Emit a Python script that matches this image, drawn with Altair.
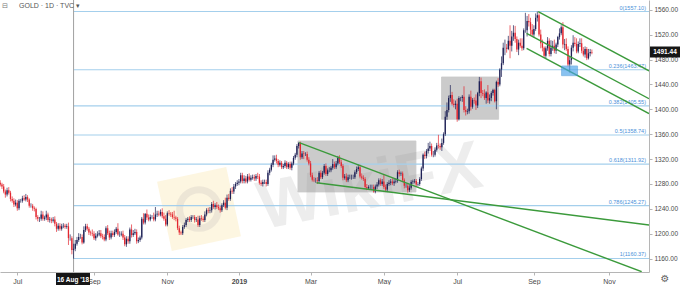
import altair as alt
import pandas as pd

# ---------------- daily closes (TVC GOLD, 1D), one list per month ----------------
jun18 = [1279,1276,1268,1263,1270,1266,1256,1253,1247,1250]
jul18 = [1241,1253,1253,1257,1255,1259,1255,1245,1245,1241,1240,1227,1224,1224,1231,1224,1226,1231,1222,1223,1221,1223]
aug18 = [1216,1208,1213,1208,1212,1213,1211,1212,1193,1193,1174,1176,1184,1190,1195,1195,1186,1206,1212,1208,1202,1201,1200]
sep18 = [1193,1197,1199,1201,1196,1195,1191,1209,1201,1194,1201,1198,1203,1208,1199,1199,1200,1194,1183,1192]
oct18 = [1188,1207,1198,1201,1203,1188,1190,1194,1224,1218,1232,1226,1223,1227,1227,1223,1231,1232,1231,1235,1228,1224,1215]
nov18 = [1233,1232,1231,1227,1226,1224,1209,1202,1201,1211,1214,1222,1224,1222,1227,1227,1222,1223,1214,1225,1224,1222]
dec18 = [1231,1238,1237,1238,1248,1243,1246,1243,1241,1238,1246,1250,1242,1258,1256,1269,1268,1276,1280,1282]
jan19 = [1284,1294,1285,1289,1284,1292,1287,1290,1291,1289,1293,1292,1282,1280,1283,1283,1280,1298,1303,1311,1319,1321]
feb19 = [1317,1311,1314,1307,1309,1314,1307,1312,1306,1313,1322,1327,1341,1346,1323,1329,1328,1328,1319,1313]
mar19 = [1294,1287,1286,1286,1285,1298,1291,1298,1309,1296,1302,1302,1306,1312,1307,1313,1322,1315,1309,1290,1292]
apr19 = [1286,1291,1291,1291,1291,1299,1304,1307,1292,1290,1288,1275,1273,1275,1275,1275,1268,1276,1279,1286,1280,1284]
may19 = [1275,1271,1280,1282,1284,1281,1284,1285,1299,1296,1297,1286,1277,1277,1270,1274,1283,1284,1285,1279,1280,1288,1305]
jun19 = [1327,1325,1333,1337,1341,1327,1327,1335,1342,1341,1339,1346,1360,1388,1399,1418,1423,1409,1407,1409]
jul19 = [1384,1418,1418,1420,1399,1396,1397,1420,1404,1415,1414,1406,1426,1445,1426,1425,1418,1427,1414,1418,1426,1431,1413]
aug19 = [1444,1440,1464,1474,1499,1499,1497,1510,1502,1517,1523,1513,1496,1507,1502,1498,1527,1527,1542,1540,1528,1520]
sep19 = [1529,1547,1551,1520,1506,1499,1486,1498,1510,1489,1499,1502,1494,1504,1516,1522,1532,1504,1505,1497,1472]
oct19 = [1479,1499,1507,1505,1493,1505,1506,1494,1488,1497,1482,1490,1492,1491.44]

# upper wicks (above body) per month
jun18_up = [4,3,4,3,4,5,3,4,4,5]
jul18_up = [4,3,3,4,5,5,3,2,4,3,3,2,3,3,6,5,3,6,3,4,3,4]
aug18_up = [5,3,4,4,4,4,3,4,6,6,3,8,6,5,6,5,4,6,4,4,3,3,6]
sep18_up = [4,4,5,5,5,4,4,3,5,4,4,4,4,3,9,5,4,5,4,4]
oct18_up = [4,3,8,5,5,4,4,3,3,9,1,7,5,4,3,7,12,5,5,4,6,6,6]
nov18_up = [3,5,3,4,10,3,3,4,3,3,4,3,3,4,3,3,3,4,6,4,5,4]
dec18_up = [5,3,4,5,3,5,3,5,4,4,3,4,8,5,6,4,6,4,3,4]
jan19_up = [4,4,4,5,4,4,5,4,4,4,3,5,4,4,4,4,4,4,3,3,7,5]
feb19_up = [6,3,4,3,3,4,3,3,4,3,3,3,3,1,2,4,4,3,4,4]
mar19_up = [4,4,4,4,5,3,4,3,3,4,3,5,3,8,4,4,3,4,4,3,4]
apr19_up = [5,4,4,4,4,3,4,4,4,5,4,3,5,3,4,4,4,3,4,3,3,4]
may19_up = [12,4,3,4,4,5,4,4,3,4,3,3,3,4,4,4,3,3,3,3,3,3,3]
jun19_up = [2,5,3,9,7,4,6,4,4,17,4,7,3,9,12,4,16,5,7,5]
jul19_up = [8,3,2,3,17,6,4,4,10,3,4,10,2,7,6,5,7,2,12,6,3,2,2]
aug19_up = [2,6,2,11,8,13,6,8,25,9,12,11,4,5,7,12,3,28,8,11,7,9]
sep19_up = [6,7,6,3,8,6,2,3,6,4,12,8,10,3,2,8,3,8,8,9,4]
oct19_up = [6,4,12,9,9,4,8,8,6,4,3,7,5,4]

# lower wicks (below body) per month
jun18_dn = [3,4,3,5,3,3,4,3,4,3]
jul18_dn = [4,3,3,3,2,3,4,3,3,4,4,4,4,5,3,3,3,4,3,4,4,3]
aug18_dn = [4,5,3,3,3,3,3,3,11,4,7,14,4,3,3,3,3,2,3,3,4,4,4]
sep18_dn = [3,4,3,3,3,4,3,3,3,4,3,3,3,3,2,4,3,4,3,4]
oct18_dn = [4,4,4,3,3,4,3,3,3,3,3,4,3,3,3,3,3,4,3,3,3,3,3]
nov18_dn = [3,3,4,3,4,4,3,4,3,3,3,3,3,3,3,3,4,3,3,3,3,3]
dec18_dn = [3,3,4,4,4,3,4,3,3,4,3,3,3,4,3,3,4,4,4,3]
jan19_dn = [4,3,4,4,3,3,3,3,3,4,4,4,3,3,4,3,4,3,4,3,4,3]
feb19_dn = [4,4,3,3,3,3,3,3,3,4,3,3,4,4,4,3,8,3,3,3]
mar19_dn = [3,3,3,4,5,3,3,3,3,3,3,3,3,3,3,3,3,3,3,4,3]
apr19_dn = [3,3,3,4,3,3,3,3,3,3,3,3,3,2,3,3,2,3,4,3,3,3]
may19_dn = [3,4,4,3,4,3,4,3,3,4,3,3,4,3,4,3,3,3,3,3,3,3,3]
jun19_dn = [4,5,4,4,4,3,4,3,3,4,4,6,3,3,5,4,6,3,4,7]
jul19_dn = [4,2,5,6,4,6,4,4,6,3,5,7,4,5,8,4,3,9,4,5,5,4,2]
aug19_dn = [13,4,3,12,3,12,6,2,20,9,7,6,4,9,3,4,3,4,10,7,9,3]
sep19_dn = [5,3,6,3,8,6,3,4,4,4,4,5,4,5,4,4,3,6,9,3,3]
oct19_dn = [13,7,6,4,3,3,5,4,3,5,3,2,5,3]

first_open = 1282

# x-axis (trading-day index) ticks and labels
tick_idx = [10, 55, 98, 140, 182, 225, 268, 313, 357]
tick_lbl = ["Jul", "Sep", "Nov", "2019", "Mar", "May", "Jul", "Sep", "Nov"]
y_ticks = [1160, 1200, 1240, 1280, 1320, 1360, 1400, 1440, 1480, 1520, 1560]

# Fibonacci retracement
fib_ratio = ["0", "0.236", "0.382", "0.5", "0.618", "0.786", "1"]
fib_price = [1557.10, 1463.47, 1405.55, 1358.74, 1311.92, 1245.27, 1160.37]
fib_start = 43          # 16 Aug '18
x_end = 380.5

# consolidation boxes (x in trading-day index, y in price)
box_x1 = [174.6, 258.8]
box_x2 = [243.8, 292.3]
box_y1 = [1267.2, 1383.9]
box_y2 = [1349.1, 1451.9]
blue_x = [329.2, 338.6]
blue_y = [1454.0, 1469.6]

# green trend lines
tl_x1 = [175.3, 185.5, 315.5, 308.7, 308.7]
tl_y1 = [1346.4, 1282.1, 1556.8, 1522.1, 1498.0]
tl_x2 = [376.2, 380.6, 380.5, 380.5, 380.5]
tl_y2 = [1139.1, 1214.2, 1461.7, 1417.0, 1393.0]

last_price = 1491.44

# ---------------- build table ----------------
months_c = [jun18, jul18, aug18, sep18, oct18, nov18, dec18, jan19, feb19, mar19, apr19, may19, jun19, jul19, aug19, sep19, oct19]
months_u = [jun18_up, jul18_up, aug18_up, sep18_up, oct18_up, nov18_up, dec18_up, jan19_up, feb19_up, mar19_up, apr19_up, may19_up, jun19_up, jul19_up, aug19_up, sep19_up, oct19_up]
months_d = [jun18_dn, jul18_dn, aug18_dn, sep18_dn, oct18_dn, nov18_dn, dec18_dn, jan19_dn, feb19_dn, mar19_dn, apr19_dn, may19_dn, jun19_dn, jul19_dn, aug19_dn, sep19_dn, oct19_dn]

closes, ups, dns = [], [], []
for c, u, d in zip(months_c, months_u, months_d):
    u = (list(u) + [u[-1]] * len(c))[:len(c)]
    d = (list(d) + [d[-1]] * len(c))[:len(c)]
    closes += c
    ups += u
    dns += d

rows = []
prev = first_open
for i, (c, u, d) in enumerate(zip(closes, ups, dns)):
    o = prev
    rows.append({"i": i, "open": o, "close": c,
                 "high": max(o, c) + u, "low": min(o, c) - d,
                 "dir": "up" if c >= o else "down"})
    prev = c
df = pd.DataFrame(rows)

fib_df = pd.DataFrame({"price": fib_price,
                       "label": [f"{r}({p:.2f})" for r, p in zip(fib_ratio, fib_price)],
                       "x1": fib_start, "x2": x_end})
box_df = pd.DataFrame({"x1": box_x1, "x2": box_x2, "y1": box_y1, "y2": box_y2})
blue_df = pd.DataFrame({"x1": [blue_x[0]], "x2": [blue_x[1]], "y1": [blue_y[0]], "y2": [blue_y[1]]})
tl_df = pd.DataFrame({"x1": tl_x1, "y1": tl_y1, "x2": tl_x2, "y2": tl_y2})
one = pd.DataFrame({"k": [0]})
cross_df = pd.DataFrame({"i": [fib_start]})
price_df = pd.DataFrame({"p": [last_price], "t": [f"{last_price:.2f}"]})

FONT = "Liberation Sans"
xs = alt.Scale(domain=[-0.15, x_end], nice=False, zero=False)
ys = alt.Scale(domain=[1138.6, 1575.6], nice=False, zero=False)

label_expr = ("[" + ",".join(f"'{t}'" for t in tick_lbl) + "][indexof([" +
              ",".join(str(v) for v in tick_idx) + "], datum.value)]")

x_axis = alt.Axis(values=tick_idx, labelExpr=label_expr, title=None, grid=False,
                  tickSize=3, labelFontSize=7, labelPadding=2, labelFont=FONT,
                  labelColor="#4a4a4a", domainColor="#b5b5b5", tickColor="#b5b5b5",
                  labelFontWeight={"condition": {"test": "datum.value == 140", "value": "bold"}, "value": "normal"})
y_axis = alt.Axis(values=y_ticks, format=".2f", orient="right", title=None, grid=False,
                  tickSize=3, labelFontSize=6.5, labelPadding=2, labelFont=FONT,
                  labelColor="#4a4a4a", domainColor="#b5b5b5", tickColor="#b5b5b5")


def X(field):
    return alt.X(field, scale=xs, axis=x_axis)


def Y(field):
    return alt.Y(field, scale=ys, axis=y_axis)


# watermark
wm_logo = alt.Chart(one).mark_point(shape="square", filled=True, size=5000, angle=348,
                                    color="#fbeec8", opacity=0.55).encode(
    x=alt.value(199), y=alt.value(209))
wm_ring = alt.Chart(one).mark_point(shape="circle", filled=False, size=1500, strokeWidth=7,
                                    color="#e4ddd0", opacity=0.6).encode(
    x=alt.value(199), y=alt.value(209))
wm_text = alt.Chart(one).mark_text(text="WikiFX", font=FONT, fontWeight="bold", fontSize=68,
                                   angle=349, color="#e6e6e6", opacity=0.7,
                                   align="center", baseline="middle").encode(
    x=alt.value(370), y=alt.value(188))

boxes = alt.Chart(box_df).mark_rect(color="#8e8e8e", opacity=0.45, stroke="#8a8a8a",
                                     strokeWidth=0.8).encode(
    x=X("x1:Q"), x2="x2:Q", y=Y("y1:Q"), y2="y2:Q")

fib_lines = alt.Chart(fib_df).mark_rule(color="#a4cfec", strokeWidth=1.1).encode(
    x=X("x1:Q"), x2="x2:Q", y=Y("price:Q"))
fib_text = alt.Chart(fib_df).mark_text(align="right", baseline="bottom", dy=-1, fontSize=5.5,
                                       font=FONT, color="#4a90d9").encode(
    x=alt.value(646), y=Y("price:Q"), text="label:N")

cross = alt.Chart(cross_df).mark_rule(color="#a0a0a0", strokeWidth=1).encode(
    x=X("i:Q"), y=alt.value(0), y2=alt.value(272))

color = alt.Color("dir:N", scale=alt.Scale(domain=["up", "down"], range=["#1e2156", "#e3262f"]),
                  legend=None)
wicks = alt.Chart(df).mark_rule(strokeWidth=0.7).encode(
    x=X("i:Q"), y=Y("low:Q"), y2="high:Q", color=color)
bodies = alt.Chart(df).mark_rule(strokeWidth=1.3).encode(
    x=X("i:Q"), y=Y("open:Q"), y2="close:Q", color=color)

tlines = alt.Chart(tl_df).mark_rule(color="#3b9a3b", strokeWidth=1.4, clip=True).encode(
    x=X("x1:Q"), x2="x2:Q", y=Y("y1:Q"), y2="y2:Q")

blue = alt.Chart(blue_df).mark_rect(color="#4aa3ea", opacity=0.65, stroke="#3b8fd6",
                                     strokeWidth=0.8).encode(
    x=X("x1:Q"), x2="x2:Q", y=Y("y1:Q"), y2="y2:Q")

title_icon = alt.Chart(one).mark_text(text="⊟", font="DejaVu Sans", fontSize=7, color="#777",
                                      align="left", baseline="middle").encode(
    x=alt.value(2), y=alt.value(6))
title_txt = alt.Chart(one).mark_text(text="GOLD · 1D · TVC ▾", font=FONT, fontSize=7,
                                     color="#555", align="left", baseline="middle").encode(
    x=alt.value(19), y=alt.value(6))

date_box = alt.Chart(one).mark_rect(color="#161616").encode(
    x=alt.value(56), x2=alt.value(90), y=alt.value(273), y2=alt.value(285))
date_txt = alt.Chart(one).mark_text(text="16 Aug '18", font=FONT, fontSize=6.5, fontWeight="bold",
                                    color="white", align="center", baseline="middle").encode(
    x=alt.value(73), y=alt.value(279.5))

price_box = alt.Chart(one).mark_rect(color="#161616").encode(
    x=alt.value(650), x2=alt.value(680), y=alt.value(46.5), y2=alt.value(57.5))
price_txt = alt.Chart(price_df).mark_text(font=FONT, fontSize=6.5, fontWeight="bold",
                                          color="white", align="center", baseline="middle").encode(
    x=alt.value(665), y=Y("p:Q"), text="t:N")

gear = alt.Chart(one).mark_text(text="⚙", font="DejaVu Sans", fontSize=10, color="#666",
                                align="center", baseline="middle").encode(
    x=alt.value(665), y=alt.value(279))

chart = alt.layer(
    wm_logo, wm_ring, wm_text, boxes, fib_lines, fib_text, cross, wicks, bodies, tlines, blue,
    title_icon, title_txt, date_box, date_txt, price_box, price_txt, gear
).properties(
    width=649, height=272,
    padding={"left": 0, "top": 0, "right": 31, "bottom": 13},
    autosize=alt.AutoSizeParams(type="none"),
    background="white",
).configure_view(stroke=None)

chart.save("out.html", embed_options={"renderer": "svg", "actions": False})
